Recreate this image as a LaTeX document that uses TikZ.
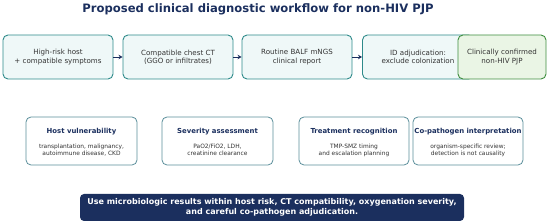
\documentclass[tikz,border=0pt]{standalone}
\usepackage{fontspec}
\setmainfont{DejaVu Sans}
\usetikzlibrary{arrows.meta}
\definecolor{navy}{HTML}{1B2F5E}
\definecolor{tealline}{HTML}{2E8A8A}
\definecolor{tealfill}{HTML}{EFF8F8}
\definecolor{greenline}{HTML}{3F8E3F}
\definecolor{greenfill}{HTML}{EAF5E5}
\definecolor{grayline}{HTML}{5A8E9A}
\definecolor{bodygray}{HTML}{333333}
\tikzset{
  x=1pt,y=-1pt,
  flowbox/.style={draw=tealline,fill=tealfill,line width=0.9pt,rounded corners=5pt,minimum width=110pt,minimum height=44pt,align=center,font=\fontsize{7.1}{8.3}\selectfont,text=bodygray},
  confbox/.style={flowbox,draw=greenline,fill=greenfill,minimum width=88pt},
  infobox/.style={draw=grayline,fill=white,line width=0.8pt,rounded corners=5pt,minimum width=111pt,minimum height=48pt,align=center},
  flowarrow/.style={draw=navy,line width=0.9pt,-{Stealth[length=4pt,width=4.5pt]}},
  ttl/.style={font=\fontsize{6.9}{8}\selectfont\bfseries,text=navy},
  bdy/.style={font=\fontsize{5.9}{7}\selectfont,text=bodygray,align=center},
}
\begin{document}
\begin{tikzpicture}
\useasboundingbox (0,0) rectangle (550,224);
\node[font=\fontsize{11.6}{13}\selectfont\bfseries,text=navy] (title) at (258,9) {Proposed clinical diagnostic workflow for non-HIV PJP};
\node[flowbox] (b1) at (58,57) {High-risk host\\+ compatible symptoms};
\node[flowbox] (b2) at (178,57) {Compatible chest CT\\(GGO or infiltrates)};
\node[flowbox] (b3) at (297,57) {Routine BALF mNGS\\clinical report};
\node[flowbox,text width=100pt,minimum width=111pt] (b4) at (418,57) {ID adjudication:\\exclude colonization};
\node[confbox] (b5) at (502,57) {Clinically confirmed\\non-HIV PJP};
\draw[flowarrow] (b1) -- (b2);
\draw[flowarrow] (b2) -- (b3);
\draw[flowarrow] (b3) -- (b4);
\node[infobox] (h1) at (81.5,141) {};
\node[ttl] (h1t) at (81.5,132) {Host vulnerability};
\node[bdy] (h1b) at (81.5,150) {transplantation, malignancy,\\autoimmune disease, CKD};
\node[infobox] (h2) at (217.5,141) {};
\node[ttl] (h2t) at (217.5,132) {Severity assessment};
\node[bdy] (h2b) at (217.5,150) {PaO2/FiO2, LDH,\\creatinine clearance};
\node[infobox,minimum width=110pt] (h3) at (354,141) {};
\node[ttl] (h3t) at (354,132) {Treatment recognition};
\node[bdy] (h3b) at (354,150) {TMP-SMZ timing\\and escalation planning};
\node[infobox,minimum width=110pt] (h4) at (468,141) {};
\node[ttl] (h4t) at (468,132) {Co-pathogen interpretation};
\node[bdy] (h4b) at (468,150) {organism-specific review;\\detection is not causality};
\node[fill=navy,rounded corners=4pt,minimum width=384pt,minimum height=27pt,inner xsep=1pt,align=center,text=white,font=\fontsize{8}{10}\selectfont\bfseries] (banner) at (272,207.5) {Use microbiologic results within host risk, CT compatibility, oxygenation severity,\\and careful co-pathogen adjudication.};
\end{tikzpicture}
\end{document}
